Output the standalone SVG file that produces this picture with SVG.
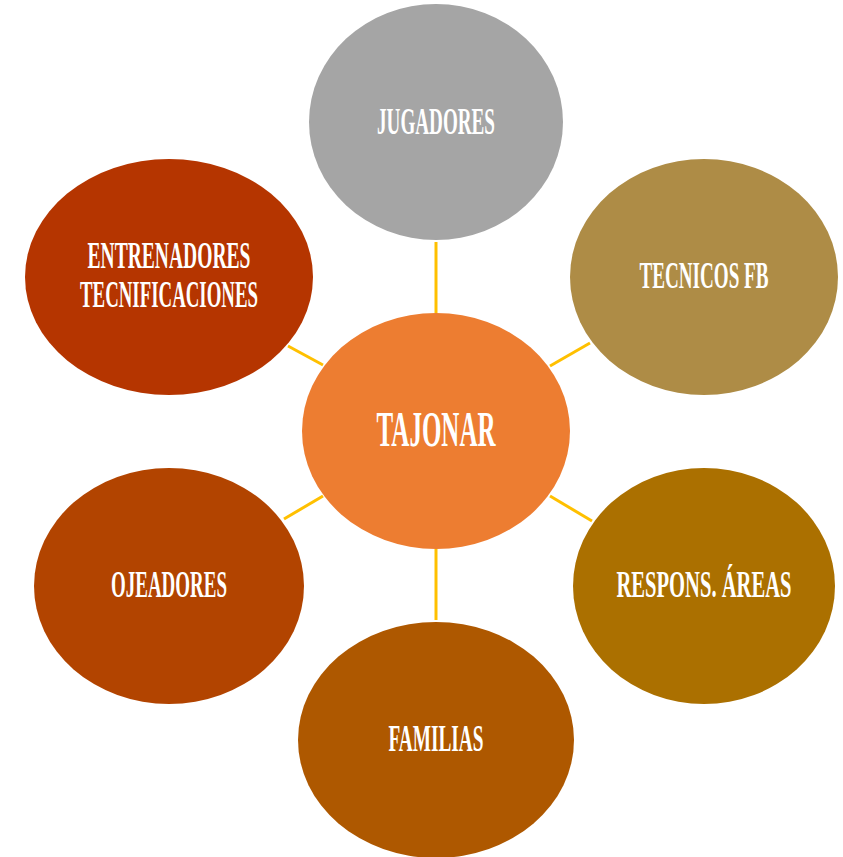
<svg xmlns="http://www.w3.org/2000/svg" width="843" height="857" viewBox="0 0 843 857">
<style>
.t{font-family:"Liberation Serif","DejaVu Serif",serif;fill:#fff;text-anchor:middle;font-size:37px;font-weight:bold}
.c{stroke:#FFC000;stroke-width:3;fill:none}
</style>
<rect width="843" height="857" fill="#fff"/>
<g id="connectors">
<line class="c" x1="436" y1="242" x2="436" y2="313"/>
<line class="c" x1="550" y1="366" x2="590" y2="343"/>
<line class="c" x1="550" y1="496" x2="592" y2="521"/>
<line class="c" x1="436" y1="549" x2="436" y2="620"/>
<line class="c" x1="284" y1="519" x2="323" y2="496"/>
<line class="c" x1="288" y1="346" x2="323" y2="365"/>
</g>
<g id="jugadores"><ellipse cx="436" cy="122" rx="127" ry="118" fill="#A5A5A5"/><text class="t" x="436" y="134" textLength="118" lengthAdjust="spacingAndGlyphs">JUGADORES</text></g>
<g id="tecnicos"><ellipse cx="704" cy="277" rx="134" ry="118" fill="#AE8C46"/><text class="t" x="704" y="288" textLength="129" lengthAdjust="spacingAndGlyphs">TECNICOS FB</text></g>
<g id="respons"><ellipse cx="704" cy="586" rx="131" ry="118" fill="#AB7000"/><text class="t" x="704" y="597" textLength="175" lengthAdjust="spacingAndGlyphs">RESPONS. ÁREAS</text></g>
<g id="familias"><ellipse cx="436" cy="740" rx="138" ry="118" fill="#AE5800"/><text class="t" x="436" y="751" textLength="95" lengthAdjust="spacingAndGlyphs">FAMILIAS</text></g>
<g id="ojeadores"><ellipse cx="169" cy="586" rx="135" ry="118" fill="#B24400"/><text class="t" x="169" y="597" textLength="116" lengthAdjust="spacingAndGlyphs">OJEADORES</text></g>
<g id="entrenadores"><ellipse cx="169" cy="277" rx="144" ry="118" fill="#B53500"/><text class="t" x="169" y="268" textLength="163" lengthAdjust="spacingAndGlyphs">ENTRENADORES</text><text class="t" x="169" y="307" textLength="178" lengthAdjust="spacingAndGlyphs">TECNIFICACIONES</text></g>
<g id="tajonar"><ellipse cx="436" cy="431" rx="134" ry="118" fill="#ED7D31"/><text class="t" x="436" y="446" style="font-size:50px" textLength="119" lengthAdjust="spacingAndGlyphs">TAJONAR</text></g>
</svg>
